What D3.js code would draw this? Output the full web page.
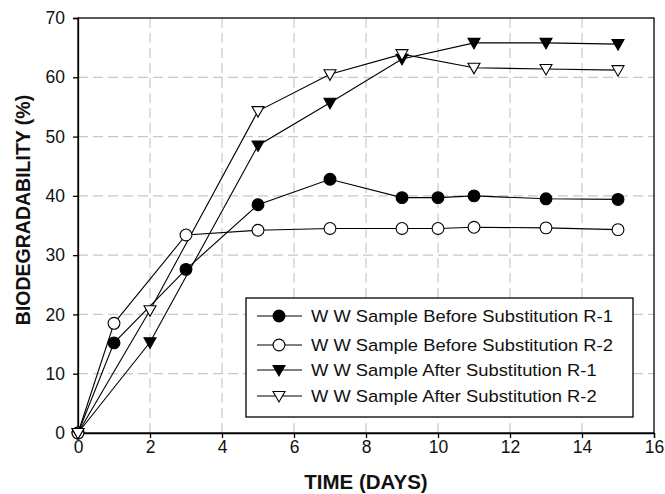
<!DOCTYPE html>
<html>
<head>
<meta charset="utf-8">
<script src="https://cdn.jsdelivr.net/npm/d3@7"></script>
<style>
  body { margin: 0; background: #fff; }
  text { font-family: Arial, "Liberation Sans", sans-serif; fill: #111; }
</style>
</head>
<body>
<div id="chart"></div>
<script>
// data
const daysBefore = [0, 1, 3, 5, 7, 9, 10, 11, 13, 15];
const beforeR1 = [0, 15.2, 27.6, 38.5, 42.8, 39.7, 39.7, 40.0, 39.5, 39.4];
const beforeR2 = [0, 18.5, 33.4, 34.2, 34.5, 34.5, 34.5, 34.7, 34.6, 34.3];
const daysAfter = [0, 2, 5, 7, 9, 11, 13, 15];
const afterR1 = [0, 15.3, 48.5, 55.7, 63.1, 65.8, 65.8, 65.6];
const afterR2 = [0, 20.7, 54.3, 60.5, 63.9, 61.6, 61.4, 61.2];
const seriesNames = [
  "W W Sample Before Substitution R-1",
  "W W Sample Before Substitution R-2",
  "W W Sample After Substitution R-1",
  "W W Sample After Substitution R-2"
];
const xTicks = [0, 2, 4, 6, 8, 10, 12, 14, 16];
const yTicks = [0, 10, 20, 30, 40, 50, 60, 70];

const width = 665, height = 494;
const margin = { top: 18, right: 11, bottom: 61, left: 78 };

const svg = d3
  .select("#chart")
  .append("svg")
  .attr("width", width)
  .attr("height", height);

const x = d3.scaleLinear().domain([0, 16]).range([margin.left, width - margin.right]);
const y = d3.scaleLinear().domain([0, 70]).range([height - margin.bottom, margin.top]);

//dashed grid
svg
  .append("g")
  .selectAll("line")
  .data(xTicks.slice(1, -1))
  .enter()
  .append("line")
  .attr("x1", (d) => x(d))
  .attr("x2", (d) => x(d))
  .attr("y1", y(0))
  .attr("y2", y(70))
  .attr("stroke", "#c8c8c8")
  .attr("stroke-width", 1.2)
  .attr("stroke-dasharray", "10,5");

svg
  .append("g")
  .selectAll("line")
  .data(yTicks.slice(1, -1))
  .enter()
  .append("line")
  .attr("x1", x(0))
  .attr("x2", x(16))
  .attr("y1", (d) => y(d))
  .attr("y2", (d) => y(d))
  .attr("stroke", "#c8c8c8")
  .attr("stroke-width", 1.2)
  .attr("stroke-dasharray", "10,5");

//frame
svg
  .append("rect")
  .attr("x", x(0))
  .attr("y", y(70))
  .attr("width", x(16) - x(0))
  .attr("height", y(0) - y(70))
  .attr("fill", "none")
  .attr("stroke", "#000")
  .attr("stroke-width", 1.3);

//axes
const xAxis = svg
  .append("g")
  .attr("transform", "translate(0," + y(0) + ")")
  .call(d3.axisBottom(x).tickValues(xTicks).tickSize(5).tickPadding(3).tickFormat(d3.format("d")));
const yAxis = svg
  .append("g")
  .attr("transform", "translate(" + x(0) + ",0)")
  .call(d3.axisLeft(y).tickValues(yTicks).tickSize(5).tickPadding(8).tickFormat(d3.format("d")));

[xAxis, yAxis].forEach((a) => {
  a.select(".domain").attr("stroke-width", 1.3);
  a.selectAll(".tick line").attr("stroke-width", 1.3);
  a.selectAll(".tick text")
    .style("font-size", "17.5px")
    .style("font-family", "Arial, 'Liberation Sans', sans-serif")
    .attr("fill", "#111");
});

//axis titles
svg
  .append("text")
  .attr("x", (x(0) + x(16)) / 2)
  .attr("y", 489)
  .attr("text-anchor", "middle")
  .style("font-size", "20.5px")
  .style("font-weight", "bold")
  .text("TIME (DAYS)");

svg
  .append("text")
  .attr("transform", "translate(30," + 210 + ") rotate(-90)")
  .attr("text-anchor", "middle")
  .style("font-size", "19.5px")
  .style("font-weight", "bold")
  .text("BIODEGRADABILITY (%)");

//series
const series = [
  { days: daysBefore, vals: beforeR1, shape: "circle", fill: "#000" },
  { days: daysBefore, vals: beforeR2, shape: "circle", fill: "#fff" },
  { days: daysAfter, vals: afterR1, shape: "tri", fill: "#000" },
  { days: daysAfter, vals: afterR2, shape: "tri", fill: "#fff" }
];

const line = d3
  .line()
  .x((d) => x(d[0]))
  .y((d) => y(d[1]));

const circleSym = d3.symbol().type(d3.symbolCircle).size(110);
const triPath = "M-6,-4.5L6,-4.5L0,6Z";

function drawMarker(g, shape, fill) {
  g.append("path")
    .attr("d", shape === "circle" ? circleSym() : triPath)
    .attr("fill", fill)
    .attr("stroke", "#000")
    .attr("stroke-width", 1.1);
}

series.forEach((s) => {
  const pts = s.days.map((d, i) => [d, s.vals[i]]);
  svg
    .append("path")
    .attr("d", line(pts))
    .attr("fill", "none")
    .attr("stroke", "#000")
    .attr("stroke-width", 1.1);
});

series.forEach((s) => {
  const pts = s.days.map((d, i) => [d, s.vals[i]]);
  svg
    .append("g")
    .selectAll("g")
    .data(pts)
    .enter()
    .append("g")
    .attr("transform", (d) => "translate(" + x(d[0]) + "," + y(d[1]) + ")")
    .each(function () {
      drawMarker(d3.select(this), s.shape, s.fill);
    });
});

//legend
const legend = svg.append("g");
legend
  .append("rect")
  .attr("x", 246)
  .attr("y", 298)
  .attr("width", 387)
  .attr("height", 119)
  .attr("fill", "#fff")
  .attr("stroke", "#000")
  .attr("stroke-width", 1.3);

const legendRows = [316, 345, 370, 396];
series.forEach((s, i) => {
  const row = legend.append("g").attr("transform", "translate(0," + legendRows[i] + ")");
  row.append("line")
    .attr("x1", 257)
    .attr("x2", 302)
    .attr("stroke", "#000")
    .attr("stroke-width", 1.1);
  const m = row.append("g").attr("transform", "translate(279,0)");
  drawMarker(m, s.shape, s.fill);
  //text in the reference is a bit wider than it is tall
  row.append("text")
    .attr("transform", "translate(311,0) scale(1.08,1)")
    .attr("dy", "0.36em")
    .style("font-size", "17px")
    .text(seriesNames[i]);
});
</script>
</body>
</html>
